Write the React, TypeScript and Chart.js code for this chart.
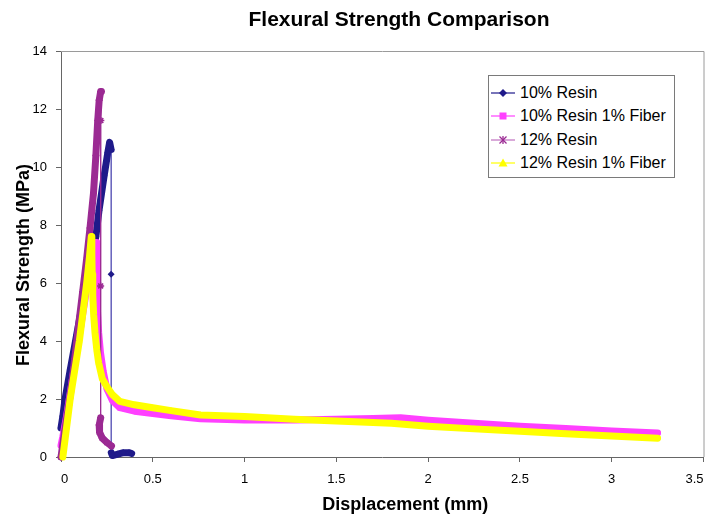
import React, { useEffect, useRef } from 'react';
import { Chart, registerables } from 'chart.js';

Chart.register(...registerables);

// ---------- data ----------
const seriesNames = ['10% Resin', '10% Resin 1% Fiber', '12% Resin', '12% Resin 1% Fiber'];

const resin10X = [0, 0.01, 0.022, 0.05, 0.085, 0.12, 0.155, 0.19, 0.207, 0.235, 0.255, 0.265, 0.273, 0.273, 0.274, 0.28, 0.31, 0.34, 0.37, 0.385];
const resin10Y = [1.0, 1.4, 2.0, 3.0, 4.2, 5.4, 6.5, 7.6, 8.5, 9.7, 10.5, 10.85, 10.6, 6.3, 0.15, 0.05, 0.1, 0.15, 0.15, 0.12];

const resin10FiberX = [0, 0.01, 0.03, 0.05, 0.07, 0.09, 0.11, 0.13, 0.15, 0.17, 0.185, 0.195, 0.197, 0.198, 0.199, 0.2, 0.205, 0.215, 0.23, 0.25, 0.28, 0.32, 0.4, 0.5, 0.6, 0.76, 1.0, 1.27, 1.5, 1.7, 1.85, 2.0, 2.25, 2.5, 2.75, 3.0, 3.25];
const resin10FiberY = [0.4, 0.7, 1.4, 2.2, 3.0, 3.8, 4.6, 5.4, 6.3, 7.0, 7.4, 7.4, 6.8, 6.2, 5.6, 5.0, 4.3, 3.6, 2.95, 2.35, 1.95, 1.7, 1.58, 1.5, 1.42, 1.32, 1.28, 1.28, 1.3, 1.33, 1.35, 1.27, 1.16, 1.06, 0.98, 0.9, 0.83];

const resin12X = [0, 0.02, 0.052, 0.075, 0.095, 0.118, 0.139, 0.158, 0.177, 0.19, 0.2, 0.208, 0.216, 0.22, 0.217, 0.216, 0.216, 0.208, 0.21, 0.225, 0.25, 0.275];
const resin12Y = [0, 0.9, 2.2, 3.4, 4.5, 5.7, 6.8, 7.9, 9.1, 10.4, 11.6, 12.3, 12.6, 12.6, 11.6, 5.9, 1.35, 1.1, 0.85, 0.65, 0.5, 0.38];

const resin12FiberX = [0.01, 0.03, 0.05, 0.075, 0.1, 0.12, 0.14, 0.155, 0.165, 0.168, 0.17, 0.173, 0.178, 0.185, 0.195, 0.205, 0.225, 0.25, 0.28, 0.32, 0.4, 0.5, 0.6, 0.76, 1.0, 1.27, 1.5, 1.8, 2.0, 2.25, 2.5, 2.75, 3.0, 3.25];
const resin12FiberY = [0, 1.0, 2.0, 3.0, 4.0, 5.0, 6.0, 6.9, 7.6, 7.0, 6.3, 5.6, 4.9, 4.3, 3.7, 3.25, 2.7, 2.42, 2.15, 1.92, 1.8, 1.7, 1.6, 1.45, 1.4, 1.3, 1.24, 1.16, 1.06, 0.97, 0.89, 0.8, 0.72, 0.65];

const xMin = 0;
const xMax = 3.5;
const xStep = 0.5;
const yMin = 0;
const yMax = 14;
const yStep = 2;

// ---------- styles ----------
const FONT = "'Liberation Sans', Arial, Helvetica, sans-serif";
const COLORS = ['#1f1a8a', '#ff40ff', '#9b2a93', '#ffff00'];
const THIN_COLORS = ['rgba(60,55,170,0.55)', 'rgba(255,64,255,0.8)', 'rgba(155,42,147,0.85)', 'rgba(230,230,0,0.9)'];
const MARKERS: any[] = ['rectRot', 'rect', 'star', 'triangle'];

const seriesX = [resin10X, resin10FiberX, resin12X, resin12FiberX];
const seriesY = [resin10Y, resin10FiberY, resin12Y, resin12FiberY];

function isThin(ds: number, i0: number, i1: number) {
  const xs = seriesX[ds];
  const ys = seriesY[ds];
  return Math.abs(ys[i1] - ys[i0]) > 0.9 && Math.abs(xs[i1] - xs[i0]) < 0.005;
}

const framePlugin = {
  id: 'frame',
  beforeDatasetsDraw(chart: any) {
    const { ctx, chartArea } = chart;
    ctx.save();
    ctx.strokeStyle = '#9a9a9a';
    ctx.lineWidth = 1;
    ctx.beginPath();
    ctx.moveTo(chartArea.left, chartArea.top + 0.5);
    ctx.lineTo(chartArea.right + 0.5, chartArea.top + 0.5);
    ctx.lineTo(chartArea.right + 0.5, chartArea.bottom);
    ctx.stroke();
    ctx.restore();
  },
};

const shiftPlugin = {
  id: 'shiftTitles',
  afterLayout(chart: any) {
    if (chart.titleBlock) {
      chart.titleBlock.left += 47;
      chart.titleBlock.right += 47;
    }
    const patch = (scale: any, dx: number, dy: number) => {
      if (!scale || scale.__patched) return;
      const orig = scale.drawTitle;
      scale.drawTitle = function (...args: any[]) {
        this.ctx.save();
        this.ctx.translate(dx, dy);
        orig.apply(this, args);
        this.ctx.restore();
      };
      scale.__patched = true;
    };
    patch(chart.scales.x, 23, 0);
    patch(chart.scales.y, 0, 11);
  },
};

function LegendMarker({ index }: { index: number }) {
  const c = COLORS[index];
  const cx = 12;
  const cy = 7;
  let marker: any = null;
  if (index === 0) marker = <polygon points={`${cx},${cy - 4} ${cx + 4},${cy} ${cx},${cy + 4} ${cx - 4},${cy}`} fill={c} />;
  if (index === 1) marker = <rect x={cx - 3.5} y={cy - 3.5} width={7} height={7} fill={c} />;
  if (index === 2)
    marker = (
      <g stroke={c} strokeWidth={1.3}>
        <line x1={cx - 3.5} y1={cy - 3.5} x2={cx + 3.5} y2={cy + 3.5} />
        <line x1={cx - 3.5} y1={cy + 3.5} x2={cx + 3.5} y2={cy - 3.5} />
        <line x1={cx} y1={cy - 4} x2={cx} y2={cy + 4} />
      </g>
    );
  if (index === 3) marker = <polygon points={`${cx},${cy - 4.5} ${cx + 4.5},${cy + 3.5} ${cx - 4.5},${cy + 3.5}`} fill={c} />;
  return (
    <svg width={26} height={14} style={{ display: 'block' }}>
      <line x1={0} y1={cy} x2={24} y2={cy} stroke={index === 2 ? '#c070c0' : c} strokeWidth={1.2} />
      {marker}
    </svg>
  );
}

export default function App() {
  const canvasRef = useRef<HTMLCanvasElement | null>(null);

  useEffect(() => {
    document.body.style.margin = '0';
    const canvas = canvasRef.current;
    if (!canvas) return;

    const datasets = seriesNames.map((name, d) => ({
      label: name,
      data: seriesX[d].map((x, i) => ({ x, y: seriesY[d][i] })),
      showLine: true,
      borderColor: COLORS[d],
      backgroundColor: COLORS[d],
      borderWidth: 7,
      borderCapStyle: 'round' as const,
      borderJoinStyle: 'round' as const,
      tension: 0,
      pointStyle: MARKERS[d],
      pointRadius: 3.5,
      pointBorderWidth: d === 2 ? 1.5 : 0,
      pointBorderColor: COLORS[d],
      pointBackgroundColor: COLORS[d],
      order: 4 - d,
      clip: 8,
      segment: {
        borderWidth: (ctx: any) => (isThin(d, ctx.p0DataIndex, ctx.p1DataIndex) ? 1 : 7),
        borderColor: (ctx: any) => (isThin(d, ctx.p0DataIndex, ctx.p1DataIndex) ? THIN_COLORS[d] : COLORS[d]),
      },
    }));

    const chart = new Chart(canvas, {
      type: 'scatter',
      data: { datasets },
      plugins: [framePlugin, shiftPlugin],
      options: {
        animation: false,
        responsive: false,
        maintainAspectRatio: false,
        events: [],
        layout: { padding: { left: 0, right: 5, top: 0, bottom: 0 } },
        plugins: {
          legend: { display: false },
          tooltip: { enabled: false },
          title: {
            display: true,
            text: 'Flexural Strength Comparison',
            color: '#000',
            font: { family: FONT, size: 21, weight: 'bold' },
            padding: { top: 8, bottom: 17.8 },
          },
        },
        scales: {
          x: {
            type: 'linear',
            min: xMin,
            max: xMax,
            afterFit: (scale: any) => {
              scale.height = 60;
              scale.paddingLeft = 0;
              scale.paddingRight = 0;
            },
            ticks: {
              stepSize: xStep,
              color: '#000',
              font: { family: FONT, size: 13 },
              padding: 10,
              align: 'inner',
              maxRotation: 0,
              autoSkip: false,
              callback: (v: any) => String(Number(v)),
            },
            grid: { drawOnChartArea: false, drawTicks: true, tickLength: 5, tickColor: '#666' },
            border: { display: true, color: '#666', width: 1 },
            title: {
              display: true,
              text: 'Displacement (mm)',
              color: '#000',
              font: { family: FONT, size: 18, weight: 'bold' },
              padding: { top: 0, bottom: 1 },
            },
          },
          y: {
            type: 'linear',
            min: yMin,
            max: yMax,
            afterFit: (scale: any) => {
              scale.width = 61;
              scale.paddingTop = 0;
              scale.paddingBottom = 0;
            },
            ticks: {
              stepSize: yStep,
              color: '#000',
              font: { family: FONT, size: 13 },
              padding: 9,
              autoSkip: false,
              callback: (v: any) => String(Number(v)),
            },
            grid: { drawOnChartArea: false, drawTicks: true, tickLength: 5, tickColor: '#666' },
            border: { display: true, color: '#666', width: 1 },
            title: {
              display: true,
              text: 'Flexural Strength (MPa)',
              color: '#000',
              font: { family: FONT, size: 18, weight: 'bold' },
              padding: { top: 13, bottom: 0 },
            },
          },
        },
      } as any,
    });

    return () => chart.destroy();
  }, []);

  const rowTops = [7, 30, 54, 77];

  return (
    <div style={{ position: 'relative', width: 709, height: 517, background: '#fff' }}>
      <canvas ref={canvasRef} width={709} height={517} style={{ display: 'block' }} />
      <div
        style={{
          position: 'absolute',
          left: 488,
          top: 75,
          width: 187,
          height: 103,
          border: '1px solid #7a7a7a',
          boxSizing: 'border-box',
          background: '#fff',
          fontFamily: FONT,
          fontSize: 16,
          color: '#000',
        }}
      >
        {seriesNames.map((n, i) => (
          <div
            key={n}
            style={{ position: 'absolute', left: 2, top: rowTops[i], height: 20, display: 'flex', alignItems: 'center', whiteSpace: 'nowrap' }}
          >
            <LegendMarker index={i} />
            <span style={{ marginLeft: 3, lineHeight: '20px' }}>{n}</span>
          </div>
        ))}
      </div>
    </div>
  );
}
